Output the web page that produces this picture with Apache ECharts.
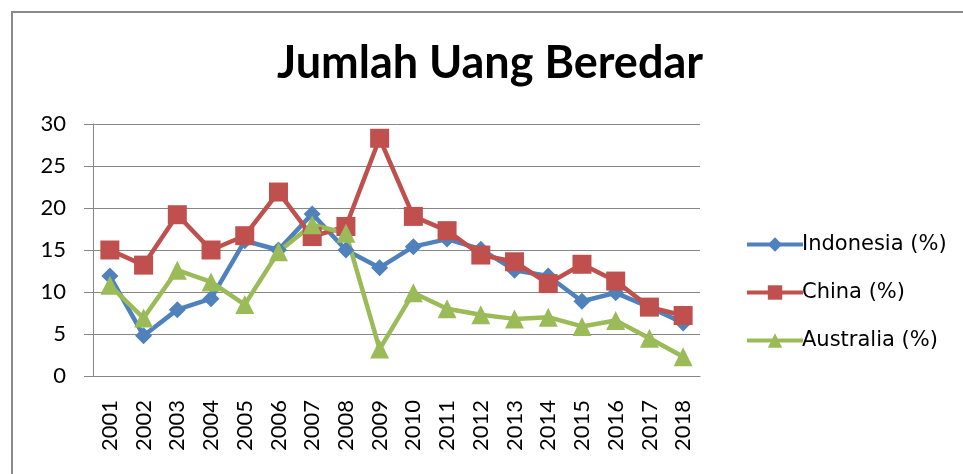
<!DOCTYPE html>
<html>
<head>
<meta charset="utf-8">
<script src="https://cdn.jsdelivr.net/npm/echarts@6/dist/echarts.min.js"></script>
<style>
  html, body { margin: 0; padding: 0; background: #fff; }
  #chart { width: 963px; height: 474px; }
</style>
</head>
<body>
<div id="chart"></div>
<script>
const years = ["2001", "2002", "2003", "2004", "2005", "2006", "2007", "2008", "2009",
  "2010", "2011", "2012", "2013", "2014", "2015", "2016", "2017", "2018"];
const indonesia = [11.9, 4.8, 7.9, 9.2, 16.1, 15.0, 19.3, 15.0, 12.9,
  15.4, 16.3, 15.1, 12.6, 11.9, 8.9, 9.9, 8.2, 6.3];
const china = [15.0, 13.2, 19.2, 15.0, 16.7, 21.9, 16.6, 17.8, 28.3,
  19.0, 17.3, 14.4, 13.6, 11.0, 13.3, 11.3, 8.2, 7.2];
const australia = [10.8, 6.9, 12.6, 11.2, 8.5, 14.8, 18.0, 17.0, 3.2,
  9.9, 8.0, 7.3, 6.8, 7.0, 5.9, 6.6, 4.5, 2.3];
const yTicks = [0, 5, 10, 15, 20, 25, 30];

const font = "Lato, 'Open Sans', sans-serif";
const grey = "#868686";

const chart = echarts.init(document.getElementById("chart"));

function lineSeries(name, data, color, symbol, size) {
  return {
    name: name,
    type: "line",
    data: data,
    symbol: symbol,
    symbolSize: size,
    lineStyle: { color: color, width: 4.5 },
    itemStyle: { color: color },
    emphasis: { disabled: true },
  };
}

chart.setOption({
  animation: false,
  backgroundColor: "#fff",
  title: {
    text: "Jumlah Uang Beredar",
    left: 485,
    textAlign: "center",
    top: 36,
    textStyle: { fontFamily: font, fontWeight: "bold", fontSize: 45, color: "#000" },
  },
  graphic: [
    {
      type: "rect",
      shape: { x: 12, y: 12, width: 1000, height: 500 },
      style: { fill: "none", stroke: "#8a8a8a", lineWidth: 2 },
      silent: true,
    },
  ],
  legend: {
    orient: "vertical",
    left: 740,
    top: 229,
    itemWidth: 56,
    itemHeight: 18,
    itemGap: 27,
    lineStyle: { width: 4 },
    textStyle: {
      fontFamily: "'DejaVu Sans', sans-serif",
      fontSize: 21,
      color: "#000",
      padding: [0, 0, 0, -6],
    },
  },
  grid: { left: 93, top: 124, right: 263, bottom: 98 },
  xAxis: {
    type: "category",
    data: years,
    boundaryGap: true,
    axisLine: { lineStyle: { color: grey, width: 1 } },
    axisTick: { length: 7, lineStyle: { color: grey } },
    axisLabel: {
      rotate: 90,
      margin: 24,
      interval: 0,
      fontFamily: font,
      fontSize: 22,
      color: "#000",
    },
  },
  yAxis: {
    type: "value",
    min: 0,
    max: 30,
    interval: 5,
    axisLine: { show: true, lineStyle: { color: grey, width: 1 } },
    axisTick: { show: true, length: 9, lineStyle: { color: grey } },
    splitLine: { lineStyle: { color: grey, width: 1 } },
    axisLabel: {
      margin: 27,
      fontFamily: font,
      fontSize: 22,
      color: "#000",
      formatter: (v) => (yTicks.includes(v) ? String(v) : ""),
    },
  },
  series: [
    lineSeries("Indonesia (%)", indonesia, "#4F81BD", "diamond", 17),
    lineSeries("China (%)", china, "#C0504D", "rect", 19),
    lineSeries("Australia (%)", australia, "#9BBB59", "triangle", 19),
  ],
});
</script>
</body>
</html>
